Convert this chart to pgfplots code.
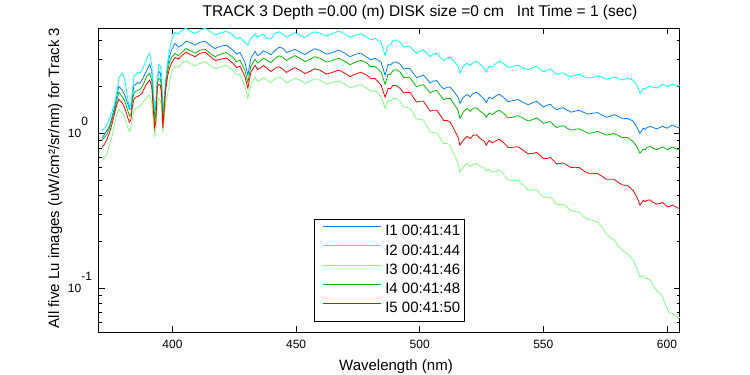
\documentclass[border=0pt]{standalone}
\usepackage{pgfplots}
\pgfplotsset{compat=1.18}
\usepackage{pgfplotstable}
\usepackage{fontspec}
\setmainfont{Liberation Sans}
\definecolor{cI1}{rgb}{0,0.5,1}
\definecolor{cI2}{rgb}{0,1,1}
\definecolor{cI3}{rgb}{0.5,1,0.5}
\definecolor{cI4}{rgb}{0,0.75,0}
\definecolor{cI5}{rgb}{1,0,0}

\pgfplotstableread{
nm C B G R L
371.5 1.04 0.929 0.902 0.813 0.670
372.5 1.08 0.985 0.942 0.850 0.690
373.5 1.14 1.04 0.985 0.915 0.743
374.5 1.25 1.11 1.08 1.01 0.838
375.5 1.37 1.27 1.21 1.14 0.956
376.5 1.54 1.45 1.39 1.33 1.14
377.5 1.84 1.76 1.63 1.54 1.33
378.3 2.26 2.01 1.84 1.66 1.43
379.0 2.37 1.95 1.78 1.61 1.39
379.8 2.44 1.89 1.71 1.56 1.35
380.6 2.26 1.78 1.63 1.47 1.27
381.4 1.89 1.63 1.49 1.35 1.16
382.0 1.63 1.54 1.39 1.25 1.08
382.6 1.49 1.43 1.29 1.18 1.03
383.2 1.54 1.45 1.33 1.23 1.09
383.8 1.89 1.71 1.63 1.49 1.25
384.4 2.33 2.04 1.81 1.66 1.39
385.2 2.40 2.07 1.87 1.71 1.45
386.0 2.48 2.13 1.89 1.73 1.47
386.8 2.44 2.10 1.92 1.76 1.49
387.6 2.55 2.20 1.98 1.81 1.54
388.4 2.71 2.33 2.10 1.92 1.61
389.2 2.91 2.48 2.26 2.04 1.68
390.0 3.14 2.63 2.37 2.13 1.73
390.8 3.28 2.79 2.44 2.20 1.76
391.6 2.79 2.55 2.20 2.01 1.58
392.3 1.89 1.76 1.52 1.37 1.18
392.8 1.37 1.33 1.20 1.08 0.970
393.3 1.63 1.54 1.37 1.21 1.08
393.9 2.20 2.26 2.13 2.01 1.58
394.5 2.79 2.51 2.26 2.07 1.68
395.1 2.71 2.44 2.23 2.04 1.63
395.6 2.40 2.13 1.95 1.78 1.49
396.1 1.33 1.25 1.14 1.08 1.01
396.6 1.63 1.58 1.45 1.37 1.21
397.2 2.01 2.13 1.98 1.87 1.58
398.0 2.87 2.71 2.51 2.33 1.78
398.8 3.43 3.14 2.87 2.63 2.13
399.6 3.98 3.43 3.09 2.83 2.48
401.0 4.49 3.81 3.28 3.09 2.71
402.4 4.37 3.60 3.17 3.01 2.66
403.8 4.62 3.70 3.33 3.18 2.83
405.5 4.77 3.93 3.52 3.33 2.94
407.1 4.55 3.86 3.43 3.23 2.83
409.1 4.40 3.71 3.29 3.12 2.72
411.1 4.62 3.86 3.43 3.28 2.83
413.2 4.77 3.93 3.49 3.34 2.90
415.2 4.55 3.70 3.28 3.14 2.75
417.2 4.31 3.52 3.12 2.95 2.60
419.2 4.42 3.64 3.23 3.00 2.67
421.8 4.57 3.71 3.32 3.06 2.74
424.5 4.29 3.43 3.09 2.83 2.55
425.9 4.06 3.24 2.90 2.66 2.38
427.3 4.16 3.33 2.96 2.71 2.40
429.3 3.86 2.87 2.55 2.33 2.01
430.5 3.70 2.37 2.13 1.95 1.68
431.7 4.10 3.05 2.71 2.48 2.07
433.4 4.36 3.38 3.00 2.75 2.30
434.4 4.15 3.17 2.84 2.58 2.16
435.4 4.29 3.23 2.91 2.63 2.20
436.8 4.36 3.41 3.05 2.74 2.29
438.2 4.10 3.33 2.96 2.63 2.20
439.8 4.05 3.21 2.85 2.50 2.12
441.5 4.42 3.43 3.05 2.63 2.26
443.1 4.52 3.59 3.16 2.69 2.31
444.7 4.36 3.54 3.09 2.59 2.23
446.1 4.15 3.32 2.95 2.47 2.11
447.5 4.29 3.38 3.05 2.55 2.17
449.5 4.46 3.49 3.17 2.65 2.27
451.6 4.29 3.33 3.05 2.55 2.20
453.6 4.15 3.22 2.90 2.43 2.10
455.6 4.36 3.38 3.00 2.51 2.17
457.6 4.52 3.51 3.12 2.61 2.25
459.7 4.42 3.43 3.05 2.55 2.20
462.3 4.24 3.24 2.88 2.41 2.08
464.9 4.42 3.33 2.96 2.48 2.13
467.3 4.57 3.44 3.05 2.56 2.18
469.8 4.36 3.28 2.91 2.44 2.07
471.8 4.15 3.12 2.77 2.32 1.96
473.8 4.29 3.23 2.87 2.40 2.01
476.2 4.39 3.29 2.96 2.48 2.06
478.7 4.16 3.09 2.83 2.37 1.95
480.3 4.01 2.98 2.69 2.25 1.86
481.9 4.10 3.05 2.71 2.26 1.89
484.4 3.86 2.87 2.48 2.04 1.73
486.0 3.18 2.37 2.07 1.71 1.45
487.2 3.70 2.79 2.40 1.95 1.63
488.2 3.72 2.75 2.40 1.94 1.61
489.2 3.98 2.87 2.55 2.04 1.68
490.6 4.00 2.89 2.57 2.03 1.68
492.1 3.86 2.79 2.48 1.95 1.61
493.5 3.60 2.60 2.29 1.82 1.48
494.9 3.64 2.63 2.30 1.84 1.47
496.1 3.64 2.61 2.28 1.83 1.45
497.4 3.43 2.44 2.13 1.71 1.35
498.7 3.27 2.29 2.00 1.59 1.24
500.1 3.38 2.33 2.04 1.61 1.23
501.5 3.46 2.37 2.06 1.61 1.22
503.0 3.28 2.23 1.92 1.49 1.11
504.2 3.12 2.11 1.82 1.39 1.02
505.4 3.23 2.17 1.87 1.41 1.01
506.8 3.29 2.19 1.89 1.41 1.01
508.3 3.09 2.04 1.76 1.31 0.929
509.7 2.95 1.93 1.65 1.21 0.860
511.1 3.05 1.98 1.68 1.21 0.862
512.3 3.10 1.99 1.68 1.18 0.832
513.5 2.96 1.89 1.58 1.09 0.754
515.5 2.71 1.71 1.41 0.942 0.640
516.3 2.44 1.56 1.25 0.838 0.560
517.6 2.71 1.71 1.37 0.902 0.604
519.2 2.83 1.78 1.45 0.956 0.640
520.4 2.74 1.72 1.39 0.924 0.610
521.6 2.87 1.81 1.45 0.970 0.631
523.0 2.91 1.84 1.46 0.978 0.641
524.4 2.79 1.76 1.39 0.929 0.613
526.1 2.63 1.66 1.33 0.888 0.595
526.9 2.48 1.58 1.27 0.838 0.569
528.1 2.71 1.71 1.35 0.902 0.586
529.3 2.67 1.67 1.32 0.868 0.560
530.5 2.79 1.73 1.37 0.888 0.569
532.1 2.92 1.79 1.41 0.917 0.579
533.8 2.83 1.71 1.35 0.875 0.544
535.8 2.66 1.60 1.26 0.810 0.500
537.8 2.71 1.63 1.27 0.813 0.498
539.8 2.75 1.65 1.30 0.819 0.494
541.9 2.63 1.58 1.25 0.776 0.462
543.9 2.57 1.53 1.20 0.737 0.432
545.9 2.67 1.58 1.23 0.743 0.429
547.3 2.71 1.61 1.26 0.754 0.433
548.7 2.59 1.54 1.21 0.721 0.411
550.1 2.49 1.48 1.16 0.685 0.387
551.6 2.55 1.52 1.18 0.690 0.386
552.8 2.61 1.54 1.19 0.700 0.389
554.0 2.51 1.47 1.14 0.670 0.370
555.4 2.40 1.42 1.09 0.635 0.348
556.8 2.44 1.45 1.11 0.640 0.348
558.2 2.45 1.46 1.12 0.644 0.347
559.6 2.37 1.41 1.08 0.622 0.333
561.2 2.32 1.37 1.05 0.601 0.317
562.9 2.37 1.39 1.06 0.604 0.314
564.5 2.40 1.41 1.07 0.602 0.309
566.1 2.33 1.37 1.04 0.577 0.292
568.1 2.27 1.33 1.00 0.553 0.278
570.1 2.30 1.35 1.01 0.552 0.275
571.9 2.35 1.36 1.03 0.551 0.267
573.8 2.30 1.31 1.00 0.528 0.248
575.4 2.23 1.27 0.973 0.506 0.226
577.0 2.26 1.29 0.985 0.505 0.213
578.6 2.31 1.32 0.997 0.505 0.205
580.2 2.26 1.29 0.970 0.484 0.189
582.0 2.21 1.24 0.937 0.464 0.175
583.9 2.26 1.25 0.942 0.462 0.168
586.3 2.20 1.20 0.888 0.429 0.152
587.9 2.04 1.09 0.813 0.386 0.135
589.1 1.81 1.00 0.743 0.343 0.118
590.4 1.95 1.08 0.789 0.370 0.121
591.2 1.93 1.06 0.785 0.363 0.116
592.0 1.98 1.09 0.813 0.370 0.116
593.2 2.02 1.11 0.823 0.372 0.113
594.4 1.98 1.09 0.801 0.359 0.105
595.8 1.96 1.07 0.785 0.349 0.097
597.2 2.01 1.09 0.801 0.353 0.0930
598.2 2.07 1.11 0.817 0.358 0.0883
599.2 2.04 1.09 0.801 0.348 0.0802
600.2 2.00 1.08 0.785 0.336 0.0731
601.2 2.04 1.11 0.801 0.338 0.0690
602.2 2.08 1.13 0.817 0.345 0.0694
603.2 2.04 1.11 0.801 0.338 0.0670
604.4 2.01 1.09 0.785 0.329 0.0647
605.6 2.07 1.11 0.801 0.333 0.0650
}\spec

\begin{document}
\begin{tikzpicture}
\path[use as bounding box] (-98.8bp,-43bp) rectangle (651.2bp,332bp);
\begin{axis}[
  at={(0,0)}, anchor=south west,
  scale only axis, width=581bp, height=304bp,
  ymode=log,
  xmin=370.2, xmax=605.2, ymin=0.0523, ymax=4.78,
  axis line style={line width=0.8bp},
  every tick/.style={line width=0.8bp, black},
  major tick length=6bp, minor tick length=3bp,
  tick align=inside,
  xtick={400,450,500,550,600},
  ytick={0.1,1},
  yticklabels={{10\smash{\rlap{\raisebox{12bp}{-1}}}},{10\smash{\rlap{\raisebox{12bp}{0}}}}},
  minor ytick={0.06,0.07,0.08,0.09,0.2,0.3,0.4,0.5,0.6,0.7,0.8,0.9,2,3,4},
  /pgf/number format/assume math mode=true,
  xticklabel style={font=\fontsize{12bp}{14bp}\selectfont, yshift=-5bp},
  yticklabel style={font=\fontsize{12bp}{14bp}\selectfont, xshift=-14bp},
  legend style={at={(0.5,0.0329)}, anchor=south, draw=black, line width=0.8bp, fill=white,
    font=\fontsize{15bp}{15bp}\selectfont, inner xsep=2bp, inner ysep=3bp, row sep=0bp,
    nodes={inner xsep=2bp, inner ysep=2.65bp, text height=11bp, text depth=3bp}},
  legend cell align=left,
  legend image code/.code={\path[draw=none, fill=none] (0bp,0bp) -- (67bp,0bp); \draw[#1, line width=0.8bp] (7bp,5.4bp) -- (65bp,5.4bp);},
]
\addplot[cI1, line width=0.8bp] table[x=nm, y=B] {\spec};
\addlegendentry{I1 00:41:41}
\addplot[cI2, line width=0.8bp] table[x=nm, y=C] {\spec};
\addlegendentry{I2 00:41:44}
\addplot[cI3, line width=0.8bp] table[x=nm, y=L] {\spec};
\addlegendentry{I3 00:41:46}
\addplot[cI4, line width=0.8bp] table[x=nm, y=G] {\spec};
\addlegendentry{I4 00:41:48}
\addplot[cI5, line width=0.8bp] table[x=nm, y=R] {\spec};
\addlegendentry{I5 00:41:50}
\end{axis}
\node[anchor=base, font=\fontsize{15.5bp}{16bp}\selectfont] at (321.2bp,315bp) {TRACK 3 Depth =0.00 (m) DISK size =0 cm\ \ \ Int Time = 1 (sec)};
\node[anchor=base, font=\fontsize{15bp}{16bp}\selectfont] at (297.2bp,-38bp) {Wavelength (nm)};
\node[anchor=base, rotate=90, font=\fontsize{15bp}{16bp}\selectfont] at (-39.8bp,154bp) {All five Lu images (uW/cm²/sr/nm) for Track 3};
\end{tikzpicture}
\end{document}
